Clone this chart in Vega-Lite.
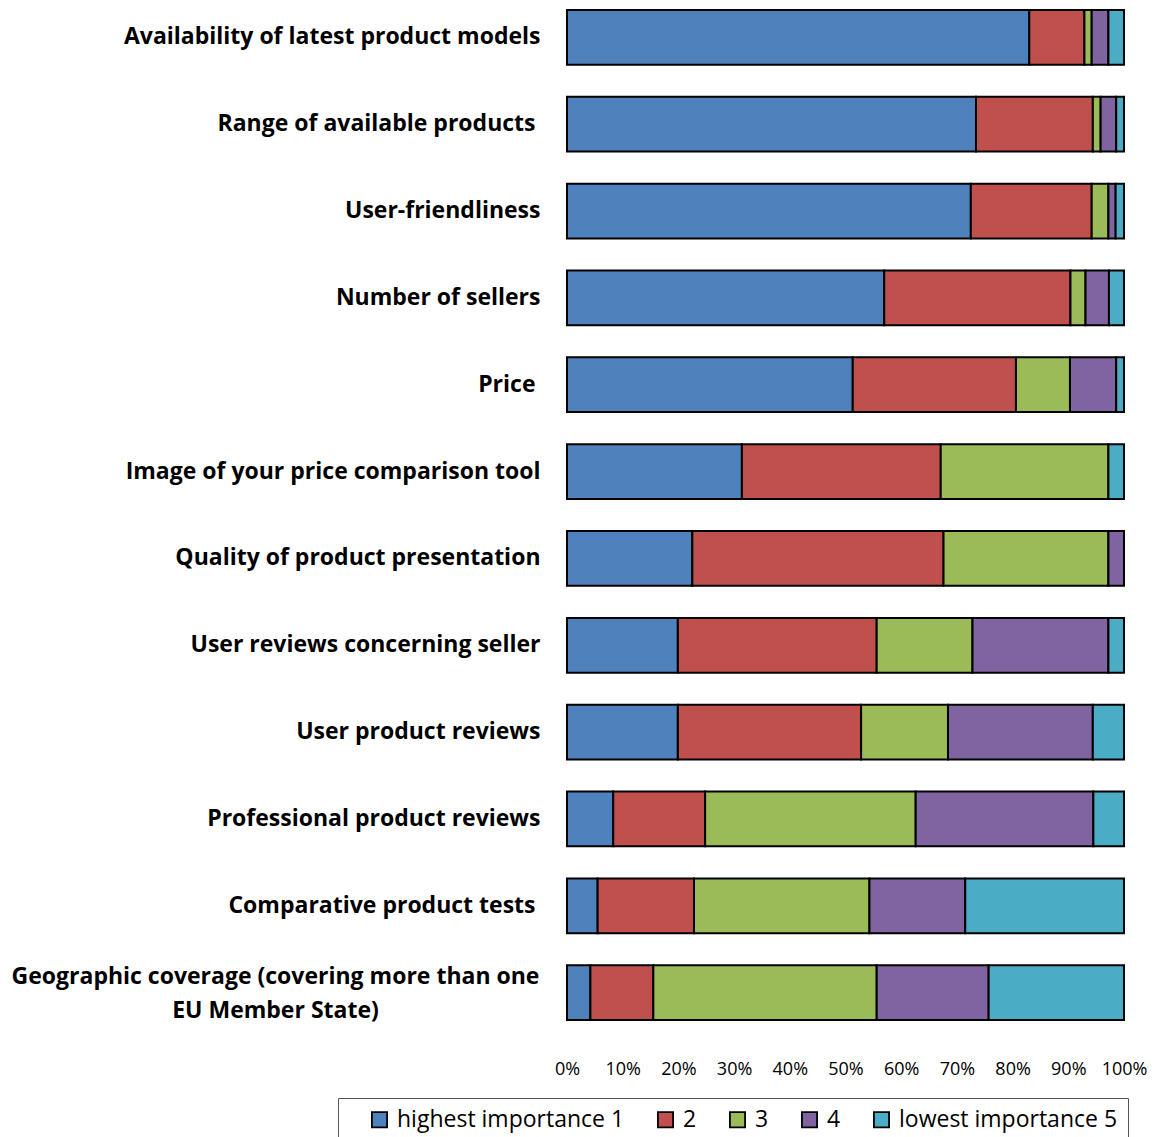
{
  "$schema": "https://vega.github.io/schema/vega-lite/v6.json",
  "autosize": "none",
  "width": 557,
  "height": 1030,
  "padding": {"left": 567, "top": 0, "right": 33, "bottom": 107},
  "background": "white",
  "config": {"view": {"stroke": null}, "font": "Open Sans"},
  "data": {"values": [
    {"item": "Availability of latest product models", "rank": 1, "level": "highest importance 1", "value": 83.0},
    {"item": "Availability of latest product models", "rank": 2, "level": "2", "value": 9.9},
    {"item": "Availability of latest product models", "rank": 3, "level": "3", "value": 1.3},
    {"item": "Availability of latest product models", "rank": 4, "level": "4", "value": 3.0},
    {"item": "Availability of latest product models", "rank": 5, "level": "lowest importance 5", "value": 2.8},
    {"item": "Range of available products ", "rank": 1, "level": "highest importance 1", "value": 73.5},
    {"item": "Range of available products ", "rank": 2, "level": "2", "value": 21.0},
    {"item": "Range of available products ", "rank": 3, "level": "3", "value": 1.4},
    {"item": "Range of available products ", "rank": 4, "level": "4", "value": 2.8},
    {"item": "Range of available products ", "rank": 5, "level": "lowest importance 5", "value": 1.4},
    {"item": "User-friendliness", "rank": 1, "level": "highest importance 1", "value": 72.5},
    {"item": "User-friendliness", "rank": 2, "level": "2", "value": 21.7},
    {"item": "User-friendliness", "rank": 3, "level": "3", "value": 3.0},
    {"item": "User-friendliness", "rank": 4, "level": "4", "value": 1.3},
    {"item": "User-friendliness", "rank": 5, "level": "lowest importance 5", "value": 1.5},
    {"item": "Number of sellers", "rank": 1, "level": "highest importance 1", "value": 56.9},
    {"item": "Number of sellers", "rank": 2, "level": "2", "value": 33.4},
    {"item": "Number of sellers", "rank": 3, "level": "3", "value": 2.7},
    {"item": "Number of sellers", "rank": 4, "level": "4", "value": 4.2},
    {"item": "Number of sellers", "rank": 5, "level": "lowest importance 5", "value": 2.7},
    {"item": "Price ", "rank": 1, "level": "highest importance 1", "value": 51.3},
    {"item": "Price ", "rank": 2, "level": "2", "value": 29.3},
    {"item": "Price ", "rank": 3, "level": "3", "value": 9.7},
    {"item": "Price ", "rank": 4, "level": "4", "value": 8.3},
    {"item": "Price ", "rank": 5, "level": "lowest importance 5", "value": 1.4},
    {"item": "Image of your price comparison tool", "rank": 1, "level": "highest importance 1", "value": 31.4},
    {"item": "Image of your price comparison tool", "rank": 2, "level": "2", "value": 35.7},
    {"item": "Image of your price comparison tool", "rank": 3, "level": "3", "value": 30.1},
    {"item": "Image of your price comparison tool", "rank": 5, "level": "lowest importance 5", "value": 2.8},
    {"item": "Quality of product presentation", "rank": 1, "level": "highest importance 1", "value": 22.5},
    {"item": "Quality of product presentation", "rank": 2, "level": "2", "value": 45.1},
    {"item": "Quality of product presentation", "rank": 3, "level": "3", "value": 29.6},
    {"item": "Quality of product presentation", "rank": 4, "level": "4", "value": 2.8},
    {"item": "User reviews concerning seller", "rank": 1, "level": "highest importance 1", "value": 19.9},
    {"item": "User reviews concerning seller", "rank": 2, "level": "2", "value": 35.7},
    {"item": "User reviews concerning seller", "rank": 3, "level": "3", "value": 17.2},
    {"item": "User reviews concerning seller", "rank": 4, "level": "4", "value": 24.4},
    {"item": "User reviews concerning seller", "rank": 5, "level": "lowest importance 5", "value": 2.8},
    {"item": "User product reviews", "rank": 1, "level": "highest importance 1", "value": 19.9},
    {"item": "User product reviews", "rank": 2, "level": "2", "value": 32.9},
    {"item": "User product reviews", "rank": 3, "level": "3", "value": 15.6},
    {"item": "User product reviews", "rank": 4, "level": "4", "value": 26.0},
    {"item": "User product reviews", "rank": 5, "level": "lowest importance 5", "value": 5.6},
    {"item": "Professional product reviews", "rank": 1, "level": "highest importance 1", "value": 8.3},
    {"item": "Professional product reviews", "rank": 2, "level": "2", "value": 16.5},
    {"item": "Professional product reviews", "rank": 3, "level": "3", "value": 37.8},
    {"item": "Professional product reviews", "rank": 4, "level": "4", "value": 31.9},
    {"item": "Professional product reviews", "rank": 5, "level": "lowest importance 5", "value": 5.5},
    {"item": "Comparative product tests ", "rank": 1, "level": "highest importance 1", "value": 5.5},
    {"item": "Comparative product tests ", "rank": 2, "level": "2", "value": 17.3},
    {"item": "Comparative product tests ", "rank": 3, "level": "3", "value": 31.5},
    {"item": "Comparative product tests ", "rank": 4, "level": "4", "value": 17.2},
    {"item": "Comparative product tests ", "rank": 5, "level": "lowest importance 5", "value": 28.5},
    {"item": "Geographic coverage (covering more than one EU Member State)", "rank": 1, "level": "highest importance 1", "value": 4.2},
    {"item": "Geographic coverage (covering more than one EU Member State)", "rank": 2, "level": "2", "value": 11.3},
    {"item": "Geographic coverage (covering more than one EU Member State)", "rank": 3, "level": "3", "value": 40.1},
    {"item": "Geographic coverage (covering more than one EU Member State)", "rank": 4, "level": "4", "value": 20.1},
    {"item": "Geographic coverage (covering more than one EU Member State)", "rank": 5, "level": "lowest importance 5", "value": 24.3}
  ]},
  "mark": {"type": "bar", "stroke": "black", "strokeWidth": 2},
  "encoding": {
    "y": {
      "field": "item", "type": "nominal", "sort": null, "title": null,
      "scale": {"paddingInner": 0.37, "paddingOuter": 0.115},
      "axis": {
        "domain": false, "ticks": false, "tickSize": 0, "grid": false,
        "labelFont": "Open Sans", "labelFontWeight": "bold", "labelFontSize": 23, "labelColor": "black",
        "labelLimit": 700,
        "labelPadding": {"condition": [
          {"test": "datum.value == 'Geographic coverage (covering more than one EU Member State)'", "value": 292},
          {"test": "datum.value == 'Range of available products ' || datum.value == 'Price ' || datum.value == 'Comparative product tests '", "value": 32}
        ], "value": 27},
        "labelAlign": {"condition": {"test": "datum.value == 'Geographic coverage (covering more than one EU Member State)'", "value": "center"}, "value": "right"},
        "labelOffset": {"condition": {"test": "datum.value == 'Geographic coverage (covering more than one EU Member State)'", "value": -16}, "value": 0},
        "labelLineHeight": 34,
        "labelExpr": "datum.value == 'Geographic coverage (covering more than one EU Member State)' ? ['Geographic coverage (covering more than one', 'EU Member State)'] : datum.value"
      }
    },
    "x": {
      "field": "value", "type": "quantitative", "stack": "normalize", "title": null,
      "scale": {"domain": [0, 1], "nice": false},
      "axis": {
        "values": [0, 0.1, 0.2, 0.3, 0.4, 0.5, 0.6, 0.7, 0.8, 0.9, 1],
        "format": ".0%", "domain": false, "ticks": false, "tickSize": 0, "grid": false,
        "labelFont": "Open Sans", "labelFontSize": 18, "labelColor": "black", "labelPadding": 30,
        "labelFlush": false, "labelOverlap": false
      }
    },
    "color": {
      "field": "level", "type": "nominal", "title": null,
      "scale": {
        "domain": ["highest importance 1", "2", "3", "4", "lowest importance 5"],
        "range": ["#4F81BD", "#C0504D", "#9BBB59", "#8064A2", "#4BACC6"]
      },
      "legend": {
        "orient": "none", "legendX": -229, "legendY": 1098, "direction": "horizontal",
        "strokeColor": "#555", "padding": 10, "fillColor": "white",
        "symbolType": "square", "symbolSize": 230, "symbolStrokeColor": "black", "symbolStrokeWidth": 1.8,
        "labelFont": "Open Sans", "labelFontSize": 23, "labelColor": "black", "labelLimit": 400,
        "columnPadding": 9, "symbolOffset": 20, "labelOffset": 6
      }
    },
    "order": {"field": "rank", "type": "quantitative"}
  }
}
